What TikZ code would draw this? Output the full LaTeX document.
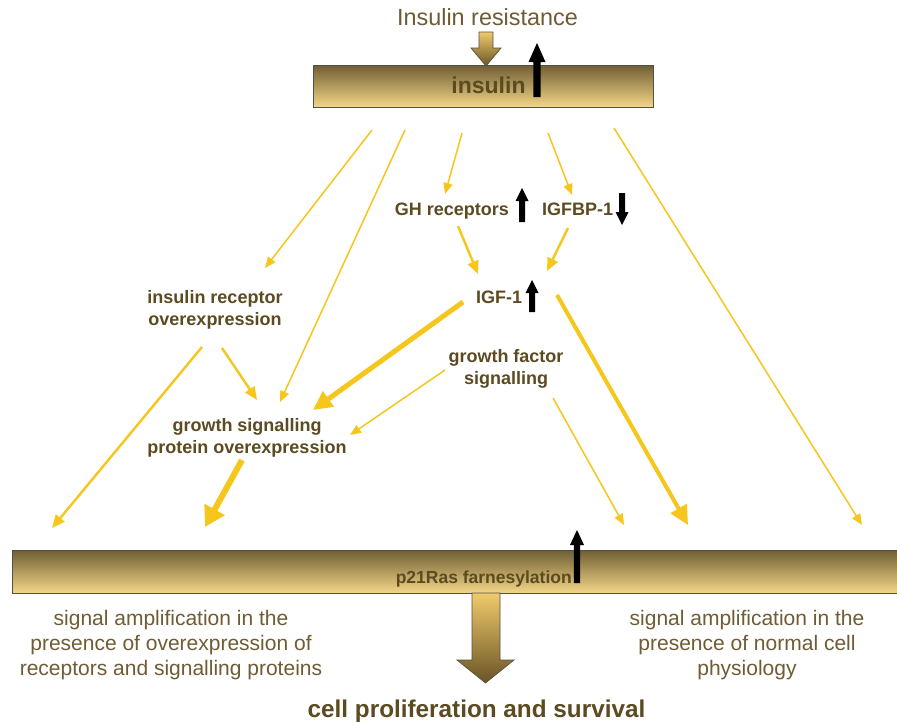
\documentclass[tikz,border=0pt]{standalone}
\usepackage{fontspec}
\setmainfont{Liberation Sans}
\usetikzlibrary{arrows.meta}
\definecolor{barDark}{RGB}{112,94,52}
\definecolor{barMid}{RGB}{214,184,108}
\definecolor{barLight}{RGB}{243,214,135}
\definecolor{arrLight}{RGB}{240,202,108}
\definecolor{arrDark}{RGB}{105,84,36}
\definecolor{yel}{RGB}{246,198,28}
\definecolor{txt}{RGB}{112,92,52}
\definecolor{btxt}{RGB}{92,74,32}
\definecolor{edge}{RGB}{85,80,70}
\newcommand\BlkArrow[6]{% x, ytip, ytail, signed head length, head half width, shaft half width
  \fill[black] (#1-#6,#3) -- (#1-#6,#2+#4) -- (#1-#5,#2+#4) -- (#1,#2) -- (#1+#5,#2+#4) -- (#1+#6,#2+#4) -- (#1+#6,#3) -- cycle;}
\begin{document}
\begin{tikzpicture}[x=1pt,y=-1pt,
  bar/.style={draw=edge,line width=0.8pt,top color=barDark,middle color=barMid,bottom color=barLight,inner sep=0pt},
  reg/.style={text=txt,inner sep=0pt,font=\fontsize{23.4}{26}\selectfont},
  lbl/.style={text=btxt,inner sep=0pt,font=\fontsize{18}{21.5}\selectfont\bfseries,align=center},
  sig/.style={text=txt,inner sep=0pt,font=\fontsize{21}{25}\selectfont,align=center},
  thin/.style={draw=yel,line width=1.5pt,-{Triangle[length=11pt,width=9pt]}},
  med/.style={draw=yel,line width=2.4pt,-{Triangle[length=13pt,width=11pt]}},
  thick/.style={draw=yel,line width=5pt,-{Triangle[length=19pt,width=18pt]}},
  block/.style={draw=edge,line width=0.7pt,top color=arrLight,bottom color=arrDark}
]
\useasboundingbox (0,0) rectangle (897,721);
\fill[white] (0,0) rectangle (897,721);

% bars
\node[bar,minimum width=340pt,minimum height=42pt] (insbar) at (483,86) {};
\node[bar,minimum width=895pt,minimum height=43pt] (rasbar) at (459.5,571.5) {};

% block arrows
\path[block] (479,32) -- (493,32) -- (493,48) -- (501,48) -- (486,66) -- (471,48) -- (479,48) -- cycle;
\path[block] (472,593) -- (500,593) -- (500,660) -- (514,660) -- (485.5,683) -- (457,660) -- (472,660) -- cycle;

% texts (multi-line nodes: base anchor = last line)
\node[reg,anchor=base] (ir) at (487.5,25) {Insulin resistance};
\node[text=btxt,inner sep=0pt,font=\fontsize{23}{26}\selectfont\bfseries,anchor=base] (ins) at (488.5,93) {insulin};
\node[lbl,anchor=base] (gh) at (452,215) {GH receptors};
\node[lbl,anchor=base] (bp) at (577.5,215) {IGFBP-1};
\node[lbl,anchor=base] (igf) at (499,303) {IGF-1};
\node[lbl,anchor=base] (irx) at (215,325) {insulin receptor\\overexpression};
\node[lbl,anchor=base] (gfs) at (506,384) {growth factor\\signalling};
\node[lbl,anchor=base] (gsp) at (247,453) {growth signalling\\protein overexpression};
\node[text=btxt,inner sep=0pt,font=\fontsize{17.5}{21}\selectfont\bfseries,anchor=base east] (p21) at (572,583) {p21Ras farnesylation};
\node[sig,anchor=base] (sl) at (171,675) {signal amplification in the\\presence of overexpression of\\receptors and signalling proteins};
\node[sig,anchor=base] (sr) at (747,675) {signal amplification in the\\presence of normal cell\\physiology};
\node[text=btxt,inner sep=0pt,font=\fontsize{24.3}{28}\selectfont\bfseries,anchor=base] (cps) at (476.5,717) {cell proliferation and survival};

% black arrows
\BlkArrow{537}{43}{97}{19}{8.5}{3.6}
\BlkArrow{522}{188}{222}{13}{6.5}{3}
\BlkArrow{622}{225}{193}{-13}{6.5}{3}
\BlkArrow{532}{280}{312}{13}{6.5}{3}
\BlkArrow{577}{530}{583}{15}{7}{3.2}

% arrow end points
\coordinate (a1s) at (372,130); \coordinate (a1e) at (265,268);
\coordinate (a2s) at (405,130); \coordinate (a2e) at (280,402);
\coordinate (a3s) at (462,133); \coordinate (a3e) at (445,194);
\coordinate (a4s) at (548,133); \coordinate (a4e) at (572,195);
\coordinate (a5s) at (614,128); \coordinate (a5e) at (862,525);
\coordinate (a6s) at (458,226); \coordinate (a6e) at (478,274);
\coordinate (a7s) at (568,228); \coordinate (a7e) at (547,271);
\coordinate (a8s) at (463,302); \coordinate (a8e) at (313,410);
\coordinate (a9s) at (557,295); \coordinate (a9e) at (688,525);
\coordinate (a10s) at (202,347); \coordinate (a10e) at (52,528);
\coordinate (a11s) at (222,348); \coordinate (a11e) at (257,400);
\coordinate (a12s) at (445,370); \coordinate (a12e) at (350,435);
\coordinate (a13s) at (553,398); \coordinate (a13e) at (624,525);
\coordinate (a14s) at (242,460); \coordinate (a14e) at (205,527);

\draw[thin] (a1s) -- (a1e);
\draw[thin] (a2s) -- (a2e);
\draw[thin] (a3s) -- (a3e);
\draw[thin] (a4s) -- (a4e);
\draw[thin] (a5s) -- (a5e);
\draw[med] (a6s) -- (a6e);
\draw[med] (a7s) -- (a7e);
\draw[thick] (a8s) -- (a8e);
\draw[thick,line width=4pt] (a9s) -- (a9e);
\draw[med] (a10s) -- (a10e);
\draw[med] (a11s) -- (a11e);
\draw[thin] (a12s) -- (a12e);
\draw[thin] (a13s) -- (a13e);
\draw[thick,line width=6pt,-{Triangle[length=20pt,width=22pt]}] (a14s) -- (a14e);
\end{tikzpicture}
\end{document}
